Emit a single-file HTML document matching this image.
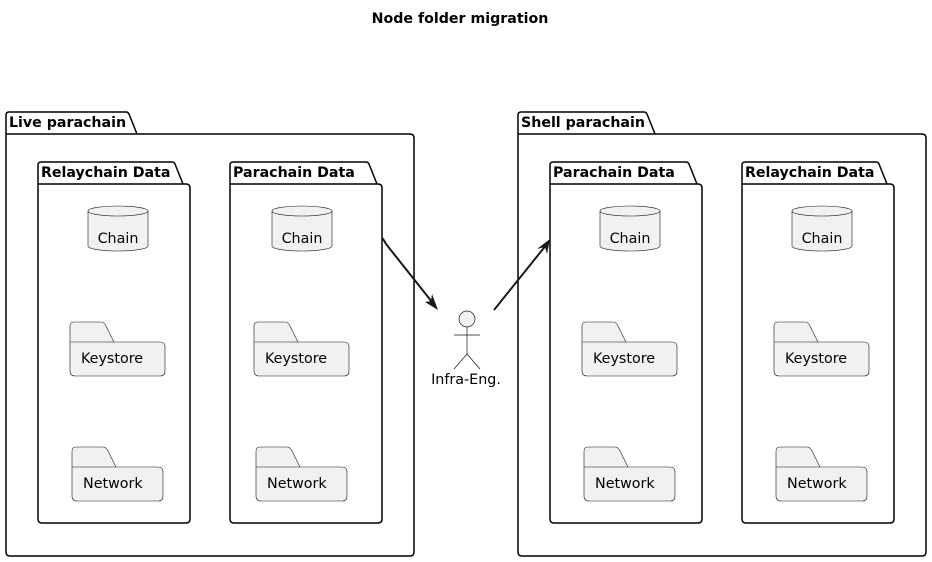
<!DOCTYPE html>
<html><head><meta charset="utf-8"><style>
html,body{margin:0;padding:0;background:#fff;}
svg{display:block;}
text{font-family:"DejaVu Sans","Liberation Sans",sans-serif;}
.pk{fill:none;stroke:#000;stroke-width:1.5;}
.sh{fill:#f1f1f1;stroke:#181818;stroke-width:0.6;}
.t{font-size:14.3px;fill:#000;}
.b{font-size:14.2px;font-weight:bold;fill:#000;}
</style></head><body>
<svg width="932" height="562" viewBox="0 0 932 562" xmlns="http://www.w3.org/2000/svg">
<text x="460" y="23" text-anchor="middle" class="b">Node folder migration</text>

<path class="pk" d="M6,134 L6,115 Q6,112 9,112 L126,112 Q128,112 129,114 L137,134 L410,134 Q414,134 414,138 L414,552 Q414,556 410,556 L10,556 Q6,556 6,552 Z M6,134 L137,134"/>
<text x="9" y="127" class="b">Live parachain</text>
<path class="pk" d="M518,134 L518,115 Q518,112 521,112 L644,112 Q646,112 647,114 L655,134 L922,134 Q926,134 926,138 L926,552 Q926,556 922,556 L522,556 Q518,556 518,552 Z M518,134 L655,134"/>
<text x="521" y="127" class="b">Shell parachain</text>

<g>
<path class="pk" d="M38,184 L38,165 Q38,162 41,162 L172,162 Q174,162 175,164 L183,184 L186,184 Q190,184 190,188 L190,519 Q190,523 186,523 L42,523 Q38,523 38,519 Z M38,184 L183,184"/>
<text x="41" y="177" class="b">Relaychain Data</text>
<path class="pk" d="M230,184 L230,165 Q230,162 233,162 L366,162 Q368,162 369,164 L377,184 L378,184 Q382,184 382,188 L382,519 Q382,523 378,523 L234,523 Q230,523 230,519 Z M230,184 L377,184"/>
<text x="233" y="177" class="b">Parachain Data</text>
<path class="pk" d="M550,184 L550,165 Q550,162 553,162 L686,162 Q688,162 689,164 L697,184 L698,184 Q702,184 702,188 L702,519 Q702,523 698,523 L554,523 Q550,523 550,519 Z M550,184 L697,184"/>
<text x="553" y="177" class="b">Parachain Data</text>
<path class="pk" d="M742,184 L742,165 Q742,162 745,162 L876,162 Q878,162 879,164 L887,184 L890,184 Q894,184 894,188 L894,519 Q894,523 890,523 L746,523 Q742,523 742,519 Z M742,184 L887,184"/>
<text x="745" y="177" class="b">Relaychain Data</text>
</g>

<g>
<path class="sh" d="M88,211 A30,5 0 0,1 148,211 L148,246 A30,5 0 0,1 88,246 Z"/><path class="sh" d="M88,211 A30,5 0 0,0 148,211" style="fill:none"/>
<text x="118" y="243" text-anchor="middle" class="t">Chain</text>
<path class="sh" d="M272,211 A30,5 0 0,1 332,211 L332,246 A30,5 0 0,1 272,246 Z"/><path class="sh" d="M272,211 A30,5 0 0,0 332,211" style="fill:none"/>
<text x="302" y="243" text-anchor="middle" class="t">Chain</text>
<path class="sh" d="M600,211 A30,5 0 0,1 660,211 L660,246 A30,5 0 0,1 600,246 Z"/><path class="sh" d="M600,211 A30,5 0 0,0 660,211" style="fill:none"/>
<text x="630" y="243" text-anchor="middle" class="t">Chain</text>
<path class="sh" d="M792,211 A30,5 0 0,1 852,211 L852,246 A30,5 0 0,1 792,246 Z"/><path class="sh" d="M792,211 A30,5 0 0,0 852,211" style="fill:none"/>
<text x="822" y="243" text-anchor="middle" class="t">Chain</text>
</g>

<g>
<path class="sh" d="M70,342 L70,326 Q70,322 74,322 L101,322 Q104,322 106,326 L114,342 L160,342 Q165,342 165,347 L165,371 Q165,376 160,376 L75,376 Q70,376 70,371 Z"/><path class="sh" d="M70,342 L114,342" style="fill:none"/>
<text x="81" y="363" class="t">Keystore</text>
<path class="sh" d="M254,342 L254,326 Q254,322 258,322 L285,322 Q288,322 290,326 L298,342 L344,342 Q349,342 349,347 L349,371 Q349,376 344,376 L259,376 Q254,376 254,371 Z"/><path class="sh" d="M254,342 L298,342" style="fill:none"/>
<text x="265" y="363" class="t">Keystore</text>
<path class="sh" d="M582,342 L582,326 Q582,322 586,322 L613,322 Q616,322 618,326 L626,342 L672,342 Q677,342 677,347 L677,371 Q677,376 672,376 L587,376 Q582,376 582,371 Z"/><path class="sh" d="M582,342 L626,342" style="fill:none"/>
<text x="593" y="363" class="t">Keystore</text>
<path class="sh" d="M774,342 L774,326 Q774,322 778,322 L805,322 Q808,322 810,326 L818,342 L864,342 Q869,342 869,347 L869,371 Q869,376 864,376 L779,376 Q774,376 774,371 Z"/><path class="sh" d="M774,342 L818,342" style="fill:none"/>
<text x="785" y="363" class="t">Keystore</text>
</g>

<g>
<path class="sh" d="M72,467 L72,451 Q72,447 76,447 L103,447 Q106,447 108,451 L116,467 L158,467 Q163,467 163,472 L163,496 Q163,501 158,501 L77,501 Q72,501 72,496 Z"/><path class="sh" d="M72,467 L116,467" style="fill:none"/>
<text x="83" y="488" class="t">Network</text>
<path class="sh" d="M256,467 L256,451 Q256,447 260,447 L287,447 Q290,447 292,451 L300,467 L342,467 Q347,467 347,472 L347,496 Q347,501 342,501 L261,501 Q256,501 256,496 Z"/><path class="sh" d="M256,467 L300,467" style="fill:none"/>
<text x="267" y="488" class="t">Network</text>
<path class="sh" d="M584,467 L584,451 Q584,447 588,447 L615,447 Q618,447 620,451 L628,467 L670,467 Q675,467 675,472 L675,496 Q675,501 670,501 L589,501 Q584,501 584,496 Z"/><path class="sh" d="M584,467 L628,467" style="fill:none"/>
<text x="595" y="488" class="t">Network</text>
<path class="sh" d="M776,467 L776,451 Q776,447 780,447 L807,447 Q810,447 812,451 L820,467 L862,467 Q867,467 867,472 L867,496 Q867,501 862,501 L781,501 Q776,501 776,496 Z"/><path class="sh" d="M776,467 L820,467" style="fill:none"/>
<text x="787" y="488" class="t">Network</text>
</g>

<g stroke="#181818" stroke-width="0.7" fill="none">
<circle cx="467" cy="319" r="8" fill="#f1f1f1"/>
<line x1="467" y1="327" x2="467" y2="354"/>
<line x1="454" y1="335" x2="480" y2="335"/>
<line x1="467" y1="354" x2="454" y2="369"/>
<line x1="467" y1="354" x2="480" y2="369"/>
</g>
<text x="466" y="384" text-anchor="middle" class="t">Infra-Eng.</text>

<path d="M382,238 Q384,240 386,244 L436,307" stroke="#181818" stroke-width="2" fill="none"/>
<polygon points="438,310 425,302 431,301 432,294" fill="#181818"/>
<path d="M494,310 L547,244" stroke="#181818" stroke-width="2" fill="none"/>
<polygon points="550,239 547,254 545,247 537,249" fill="#181818"/>
</svg>
</body></html>
